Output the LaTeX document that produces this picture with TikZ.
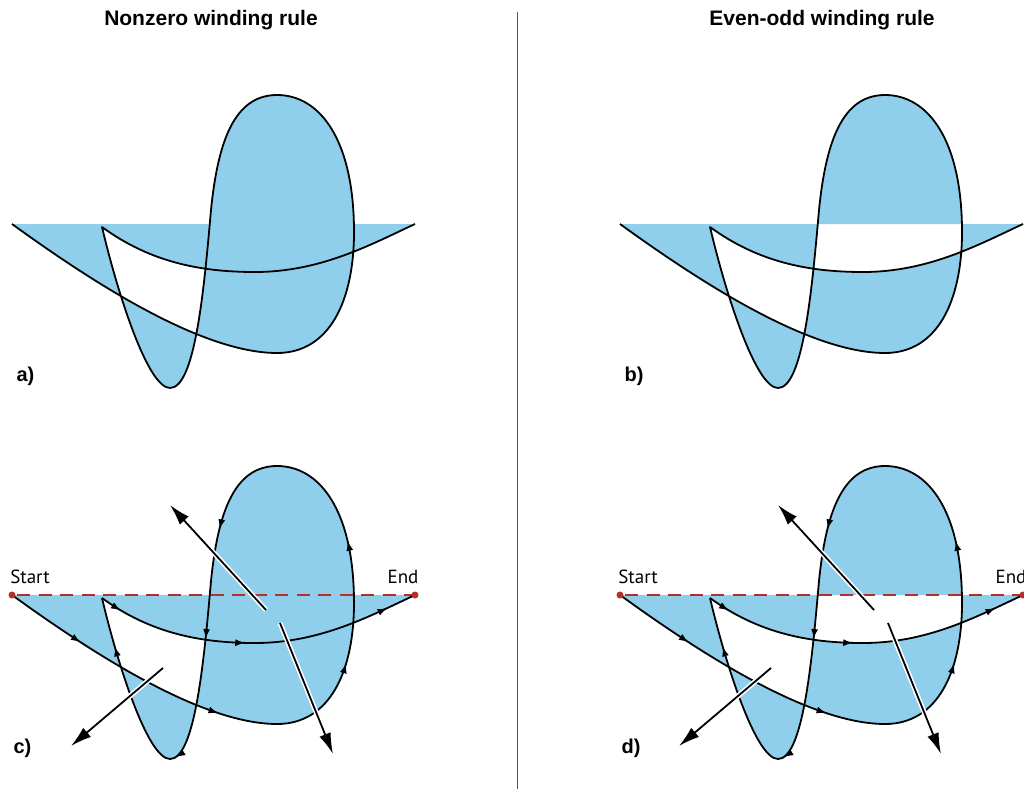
\documentclass[tikz,border=0pt]{standalone}
\usepackage{fontspec}
\setmainfont{Liberation Sans}
\newfontfamily\lblfont{PT Sans}
\usetikzlibrary{arrows.meta,decorations.markings}
\definecolor{fillblue}{HTML}{8FCFEC}
\definecolor{dashred}{HTML}{B3302E}
\definecolor{divgray}{HTML}{555555}
\newcommand\wrShape{(12,224) .. controls (88,279) and (200,353) .. (277,353) .. controls (330,353) and (354,300) .. (354,232) .. controls (354,140) and (320,95) .. (277,95) .. controls (235,95) and (218,140) .. (211,210) .. controls (204,290) and (195,388) .. (170,388) .. controls (148,388) and (118,295) .. (102,227) .. controls (150,262) and (200,272) .. (255,272) .. controls (320,272) and (370,245) .. (415,224) -- cycle}
\newcommand\wrLine{(12,224) .. controls (88,279) and (200,353) .. (277,353) .. controls (330,353) and (354,300) .. (354,232) .. controls (354,140) and (320,95) .. (277,95) .. controls (235,95) and (218,140) .. (211,210) .. controls (204,290) and (195,388) .. (170,388) .. controls (148,388) and (118,295) .. (102,227) .. controls (150,262) and (200,272) .. (255,272) .. controls (320,272) and (370,245) .. (415,224)}
\tikzset{
  curve/.style={line width=1.8pt, line join=round},
  sarr/.style={postaction={decorate,decoration={markings,mark=at position #1 with {\arrow{Latex[length=10pt,width=7pt]}}}}},
  ray/.style={line width=1.8pt, preaction={draw=white,line width=5pt,arrows=-}, -{Latex[length=21pt,width=12pt]}},
  ttl/.style={font=\bfseries\fontsize{21}{24}\selectfont},
  plbl/.style={font=\bfseries\fontsize{20}{22}\selectfont, anchor=west},
  sel/.style={font=\lblfont\fontsize{19}{21}\selectfont},
  enddot/.style={circle, fill=dashred, inner sep=0pt, minimum size=7pt}
}
\newcommand\arrowedpath{%
  \draw[curve, sarr=0.28, sarr=0.8] (12,224) .. controls (88,279) and (200,353) .. (277,353);
  \draw[curve, sarr=0.62] (277,353) .. controls (330,353) and (354,300) .. (354,232);
  \draw[curve, sarr=0.36] (354,232) .. controls (354,140) and (320,95) .. (277,95);
  \draw[curve, sarr=0.64] (277,95) .. controls (235,95) and (218,140) .. (211,210);
  \draw[curve, sarr=0.31, sarr=0.97] (211,210) .. controls (204,290) and (195,388) .. (170,388);
  \draw[curve, sarr=0.72] (170,388) .. controls (148,388) and (118,295) .. (102,227);
  \draw[curve, sarr=0.14, sarr=0.94] (102,227) .. controls (150,262) and (200,272) .. (255,272);
  \draw[curve, sarr=0.82] (255,272) .. controls (320,272) and (370,245) .. (415,224);
}
\newcommand\raysandmarks{%
  \coordinate (r1s) at (266,610-371);
  \coordinate (r1e) at (170,505-371);
  \coordinate (r2s) at (280,623-371);
  \coordinate (r2e) at (333,754-371);
  \coordinate (r3s) at (163,668-371);
  \coordinate (r3e) at (71,746-371);
  \draw[ray] (r1s) -- (r1e);
  \draw[ray] (r2s) -- (r2e);
  \draw[ray] (r3s) -- (r3e);
}
\begin{document}
\begin{tikzpicture}[x=1pt,y=-1pt]
\clip (0,0) rectangle (1024,789);
\fill[white] (0,0) rectangle (1024,789);
% titles and divider
\node[ttl] (t1) at (211,20) {Nonzero winding rule};
\node[ttl] (t2) at (822,20) {Even-odd winding rule};
\draw[divgray, line width=1pt] (517.5,12) -- (517.5,789);
% panel a
\fill[fillblue, nonzero rule] \wrShape;
\draw[curve] \wrLine;
\node[plbl] (la) at (13,376) {a)};
% panel b
\begin{scope}[shift={(608,0)}]
\fill[fillblue, even odd rule] \wrShape;
\draw[curve] \wrLine;
\node[plbl] (lb) at (13,376) {b)};
\end{scope}
% panel c
\begin{scope}[shift={(0,371)}]
\fill[fillblue, nonzero rule] \wrShape;
\draw[dashred, line width=2.8pt, dash pattern=on 13pt off 8.5pt, dash phase=-5pt] (12,224) -- (415,224);
\arrowedpath
\raysandmarks
\node[enddot] (sc) at (12,224) {};
\node[enddot] (ec) at (415,224) {};
\node[sel] (stc) at (30,206) {Start};
\node[sel] (enc) at (403,206) {End};
\node[plbl] (lc) at (10,377) {c)};
\end{scope}
% panel d
\begin{scope}[shift={(608,371)}]
\fill[fillblue, even odd rule] \wrShape;
\draw[dashred, line width=2.8pt, dash pattern=on 13pt off 8.5pt, dash phase=-5pt] (12,224) -- (415,224);
\arrowedpath
\raysandmarks
\node[enddot] (sd) at (12,224) {};
\node[enddot] (ed) at (415,224) {};
\node[sel] (std) at (30,206) {Start};
\node[sel] (end) at (403,206) {End};
\node[plbl] (ld) at (10,377) {d)};
\end{scope}
\end{tikzpicture}
\end{document}
